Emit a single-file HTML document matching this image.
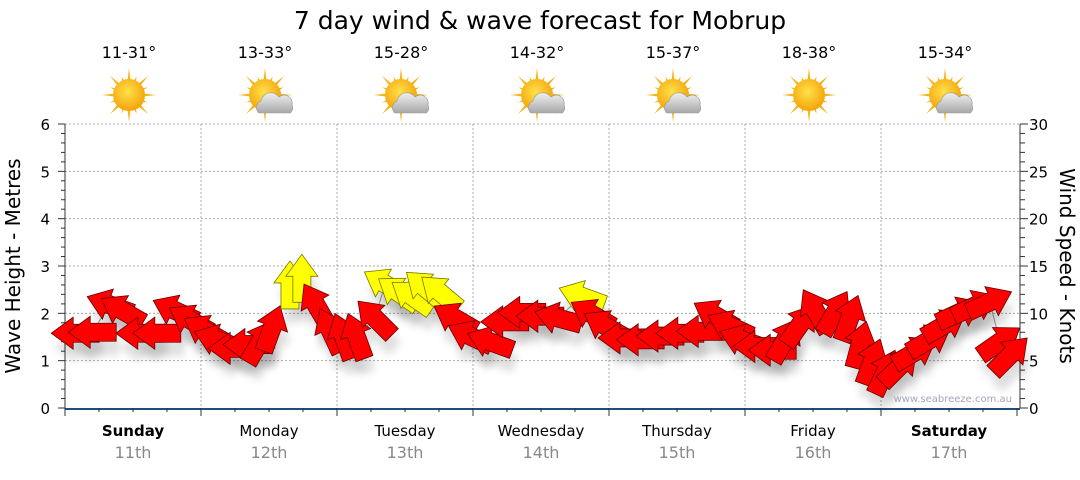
<!DOCTYPE html>
<html><head><meta charset="utf-8"><style>
body{margin:0;background:#fff;font-family:"Liberation Sans","DejaVu Sans",sans-serif}
svg text{font-family:"DejaVu Sans","Liberation Sans",sans-serif}
</style></head><body>
<svg id="c" width="1080" height="475">
<defs>
<radialGradient id="sun" cx="45%" cy="40%" r="60%"><stop offset="0" stop-color="#ffe14a"/><stop offset="1" stop-color="#f5a30a"/></radialGradient>
<linearGradient id="cloud" x1="0" y1="0" x2="0" y2="1"><stop offset="0" stop-color="#f0f0f0"/><stop offset="1" stop-color="#a8a8a8"/></linearGradient>
<filter id="sh" x="-50%" y="-50%" width="200%" height="200%"><feGaussianBlur stdDeviation="4"/></filter>
</defs>
<text x="540" y="29" font-size="25" text-anchor="middle">7 day wind &amp; wave forecast for Mobrup</text>
<g id="grid"></g><g id="icons"></g><g id="axes"></g><g id="marks"></g>
<text x="1012" y="402" font-size="10" fill="#a0a8b8" text-anchor="end">www.seabreeze.com.au</text>
<text transform="translate(20,266) rotate(-90)" font-size="20" text-anchor="middle">Wave Height - Metres</text>
<text transform="translate(1060,266) rotate(90)" font-size="20" text-anchor="middle">Wind Speed - Knots</text>
</svg>
<script>
const days=["Sunday","Monday","Tuesday","Wednesday","Thursday","Friday","Saturday"];
const dates=["11th","12th","13th","14th","15th","16th","17th"];
const temps=["11-31°","13-33°","15-28°","14-32°","15-37°","18-38°","15-34°"];
const cloudy=[0,1,1,1,1,0,1];
const metreTicks=[0,1,2,3,4,5,6];
const knotTicks=[0,5,10,15,20,25,30];
const hours=[1.8,4.8,7.9,10.1,13.2,16.2,19.4,22.1,24.7,26.8,29.5,32.1,34.4,36.5,39.7,41.8,44.3,46.8,49.1,51.4,54.7,56.5,58.8,61.2,63.5,66.2,68.8,71.5,75.0,77.6,80.6,83.8,87.0,91.2,93.0,95.3,98.3,101.5,105.0,108.5,112.1,114.7,117.3,119.5,122.1,124.8,127.1,129.7,132.4,135.9,138.5,140.3,142.4,144.7,147.3,150.0,152.6,155.3,157.9,160.6,163.2,165.0,166.8];
const knots=[7.9,8.0,10.9,10.3,7.9,7.9,10.3,9.3,8.2,7.2,6.3,6.7,7.0,8.4,13.0,13.7,10.9,8.2,7.6,7.6,9.5,13.1,12.2,11.8,12.7,12.2,9.5,7.6,7.0,9.1,10.1,9.7,9.5,11.8,9.9,8.7,7.4,7.2,7.6,7.9,8.1,9.8,8.7,7.2,6.5,6.1,7.2,8.8,10.3,10.1,9.5,6.7,4.9,3.8,4.4,5.9,7.2,8.8,10.1,10.8,11.2,7.0,5.6];
const dirs=[180,180,-160,-150,180,180,-155,-150,-150,-160,180,180,-60,-70,-90,-90,-120,-115,-110,-110,-135,-150,-145,-145,-140,-140,-150,-155,-160,180,180,180,-165,-160,-150,-150,180,180,180,180,180,-150,-155,-160,180,180,-60,-55,-120,-60,-70,-75,-70,-65,-45,-30,-30,-30,-25,-25,-25,-35,-45];
const strong=[0,0,0,0,0,0,0,0,0,0,0,0,0,0,1,1,0,0,0,0,0,1,1,1,1,1,0,0,0,0,0,0,0,1,0,0,0,0,0,0,0,0,0,0,0,0,0,0,0,0,0,0,0,0,0,0,0,0,0,0,0,0,0];
const NS="http://www.w3.org/2000/svg";
const X0=65,X1=1017,YT=124,YB=408;
const xH=h=>X0+h*(X1-X0)/168;
const yM=m=>YB-m*(YB-YT)/6;
const yK=k=>YB-k*(YB-YT)/30;
function mk(p,t,a){const e=document.createElementNS(NS,t);for(const k in a)e.setAttribute(k,a[k]);p.appendChild(e);return e;}
const grid=document.getElementById('grid'),axes=document.getElementById('axes'),icons=document.getElementById('icons'),marks=document.getElementById('marks');
metreTicks.forEach(m=>{if(m>0){const l=mk(grid,'line',{x1:X0,x2:1020,y1:yM(m),y2:yM(m),stroke:'#aaa','stroke-dasharray':'2,2'});

}
const t=mk(axes,'text',{x:50,y:yM(m)+6,'font-size':15,'text-anchor':'end'});t.textContent=m;

});
knotTicks.forEach(k=>{const t=mk(axes,'text',{x:1029,y:yK(k)+6,'font-size':15});t.textContent=k;

});
for(let i=0;i<=30;i++){mk(axes,'line',{x1:1020,x2:i%5?1025:1028,y1:yK(i),y2:yK(i),stroke:'#333'});}
for(let i=0;i<=30;i++){mk(axes,'line',{x1:X0,x2:i%5?X0-4:X0-7,y1:yM(i/5),y2:yM(i/5),stroke:'#333'});}
mk(axes,'line',{x1:X0,x2:X0,y1:YT,y2:YB,stroke:'#333'});
mk(axes,'line',{x1:1020,x2:1020,y1:YT,y2:YB,stroke:'#333'});
mk(axes,'line',{x1:X0,x2:1020,y1:YB+1,y2:YB+1,stroke:'#1f4f7a','stroke-width':2});
for(let h=0;h<=168;h+=6){mk(axes,'line',{x1:xH(h),x2:xH(h),y1:YB,y2:YB+(h%24?4:8),stroke:'#333'});}
days.forEach((d,i)=>{
 if(i>0){const l=mk(grid,'line',{x1:xH(i*24),x2:xH(i*24),y1:YT,y2:YB,stroke:'#aaa','stroke-dasharray':'2,2'});
 
 }
 const cx=xH(i*24+12);
 const t=mk(axes,'text',{x:cx,y:436,'font-size':15,'text-anchor':'middle','font-weight':(i==0||i==6)?'bold':'normal'});t.textContent=d;
 
 
 const t2=mk(axes,'text',{x:cx,y:458,'font-size':16,'text-anchor':'middle',fill:'#888'});t2.textContent=dates[i];
 
 
 const t3=mk(icons,'text',{x:cx-4,y:58,'font-size':16,'text-anchor':'middle'});t3.textContent=temps[i];
 
 
 const g=mk(icons,'g',{transform:`translate(${cx-4},95)`});
 
 
 for(let a=0;a<16;a++){const r=a%2?20:27;const an=a*Math.PI/8;
  mk(g,'polygon',{points:`${Math.cos(an)*r},${Math.sin(an)*r} ${Math.cos(an+0.15)*12},${Math.sin(an+0.15)*12} ${Math.cos(an-0.15)*12},${Math.sin(an-0.15)*12}`,fill:'#f2b51c'});}
 mk(g,'circle',{r:16,fill:'url(#sun)'});
 if(cloudy[i]){mk(g,'path',{d:'M-6,18 a7,7 0 0 1 2,-12 a10,10 0 0 1 18,-4 a8,8 0 0 1 13,8 a6,6 0 0 1 -2,8 z',fill:'url(#cloud)',stroke:'#999','stroke-width':0.6});}
});
let pts=hours.map((h,i)=>xH(h)+','+yK(knots[i])).join(' ');
mk(marks,'polyline',{points:pts,fill:'none',stroke:'#999','stroke-width':1});
const shape='-24,-9 2,-9 2,-16 24,0 2,16 2,9 -24,9';
hours.forEach((h,i)=>{const x=xH(h),y=yK(knots[i]);
 mk(marks,'polygon',{points:shape,fill:'#000',opacity:0.12,filter:'url(#sh)',transform:`translate(${x+3},${y+14}) rotate(${dirs[i]})`});});
hours.forEach((h,i)=>{const x=xH(h),y=yK(knots[i]);
 const p=mk(marks,'polygon',{points:shape,fill:strong[i]?'#ffff00':'#ff0000',stroke:strong[i]?'#777700':'#660000','stroke-width':0.8,transform:`translate(${x},${y}) rotate(${dirs[i]})`});
 
 });
</script>
</body></html>
